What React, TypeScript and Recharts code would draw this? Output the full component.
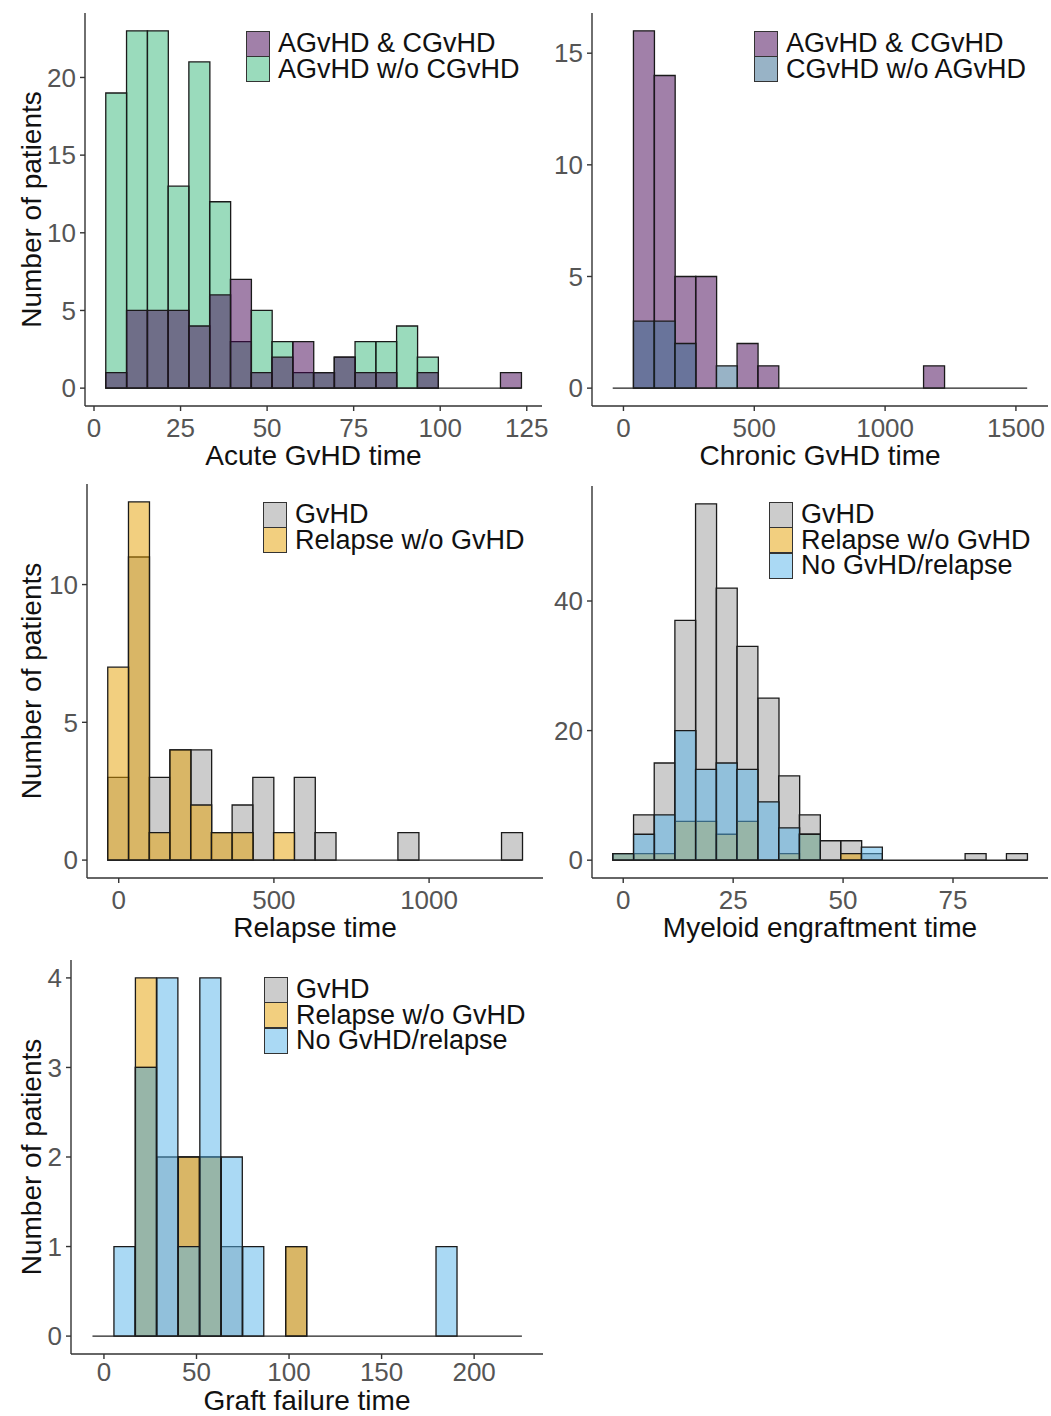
import React from "react";
import { ComposedChart, Bar, XAxis, YAxis, ReferenceLine, Legend } from "recharts";

const FONT = '"Liberation Sans", Arial, Helvetica, sans-serif';

// ggplot-like fills, drawn at alpha 0.5
const PURPLE = "#440154";
const BLUE = "#31688E";
const GREEN = "#35B779";
const GREY = "#999999";
const ORANGE = "#E69F00";
const SKY = "#56B4E9";

// Acute GvHD time
const acuteBins = [6.4, 12.4, 18.4, 24.4, 30.4, 36.4, 42.4, 48.4, 54.4, 60.4, 66.4, 72.4, 78.4, 84.4, 90.4, 96.4, 102.4, 108.4, 114.4, 120.4];
const acuteBoth = [1, 5, 5, 5, 4, 6, 7, 1, 2, 3, 1, 2, 1, 1, 0, 1, 0, 0, 0, 1];
const acuteOnly = [19, 23, 23, 13, 21, 12, 3, 5, 3, 1, 1, 2, 3, 3, 4, 2, 0, 0, 0, 0];

// Chronic GvHD time
const chronicBins = [-1.4, 77.8, 157.0, 236.2, 315.4, 394.6, 473.8, 553.0, 632.2, 711.4, 790.6, 869.8, 949.0, 1028.2, 1107.4, 1186.6, 1265.8, 1345.0, 1424.2, 1503.4];
const chronicBoth = [0, 16, 14, 5, 5, 0, 2, 1, 0, 0, 0, 0, 0, 0, 0, 1, 0, 0, 0, 0];
const chronicOnly = [0, 3, 3, 2, 0, 1, 0, 0, 0, 0, 0, 0, 0, 0, 0, 0, 0, 0, 0, 0];

// Relapse time
const relapseBins = [-2.0, 64.8, 131.6, 198.3, 265.1, 331.9, 398.7, 465.4, 532.2, 599.0, 665.8, 732.5, 799.3, 866.1, 932.9, 999.6, 1066.4, 1133.2, 1200.0, 1266.7];
const relapseGvhd = [3, 11, 3, 4, 4, 1, 2, 3, 0, 3, 1, 0, 0, 0, 1, 0, 0, 0, 0, 1];
const relapseOnly = [7, 13, 1, 4, 2, 1, 1, 0, 1, 0, 0, 0, 0, 0, 0, 0, 0, 0, 0, 0];

// Myeloid engraftment time
const engraftBins = [0.0, 4.7, 9.4, 14.1, 18.8, 23.5, 28.2, 33.0, 37.7, 42.4, 47.1, 51.8, 56.5, 61.3, 66.0, 70.7, 75.4, 80.1, 84.8, 89.5];
const engraftGvhd = [1, 7, 15, 37, 55, 42, 33, 25, 13, 7, 3, 3, 1, 0, 0, 0, 0, 1, 0, 1];
const engraftRelapse = [1, 1, 1, 6, 6, 4, 6, 0, 1, 4, 0, 1, 0, 0, 0, 0, 0, 0, 0, 0];
const engraftNone = [1, 4, 7, 20, 14, 15, 14, 9, 5, 4, 0, 0, 2, 0, 0, 0, 0, 0, 0, 0];

// Graft failure time
const graftBins = [-0.4, 11.2, 22.8, 34.4, 46.0, 57.6, 69.2, 80.8, 92.4, 104.0, 115.6, 127.2, 138.8, 150.4, 162.0, 173.6, 185.2, 196.8, 208.4, 220.0];
const graftGvhd = [0, 0, 3, 2, 2, 2, 1, 0, 0, 1, 0, 0, 0, 0, 0, 0, 0, 0, 0, 0];
const graftRelapse = [0, 0, 4, 0, 2, 2, 0, 0, 0, 1, 0, 0, 0, 0, 0, 0, 0, 0, 0, 0];
const graftNone = [0, 1, 3, 4, 1, 4, 2, 1, 0, 0, 0, 0, 0, 0, 0, 0, 1, 0, 0, 0];

type Series = { name: string; values: number[]; color: string };

function rgba(hex: string, a: number) {
  const n = parseInt(hex.slice(1), 16);
  return `rgba(${(n >> 16) & 255}, ${(n >> 8) & 255}, ${n & 255}, ${a})`;
}

function LegendBox({ items }: { items: Series[] }) {
  return (
    <div style={{ fontFamily: FONT }}>
      {items.map((s, i) => (
        <div key={s.name} style={{ display: "flex", alignItems: "center", height: 25, marginTop: i ? 0.5 : 0 }}>
          <div
            style={{
              boxSizing: "border-box",
              width: 24,
              height: 26,
              background: rgba(s.color, 0.5),
              border: "1.5px solid #333",
            }}
          />
          <span style={{ marginLeft: 8, fontSize: 27, lineHeight: "25px", color: "#111", whiteSpace: "nowrap" }}>
            {s.name}
          </span>
        </div>
      ))}
    </div>
  );
}

interface PanelProps {
  left: number;
  top: number;
  width: number;
  height: number;
  marginTop: number;
  marginRight: number;
  yAxisWidth: number;
  xAxisHeight: number;
  bins: number[];
  draw: Series[];
  legend: Series[];
  legendPos: { left: number; top: number };
  xDomain: [number, number];
  xTicks: number[];
  yDomain: [number, number];
  yTicks: number[];
  xTitle: string;
  xTitleOffset: number;
  xTickMargin?: number;
  yTitle?: string;
}

const axisStroke = { stroke: "#333", strokeWidth: 1.4 };
const tickStyle = { fontSize: 26, fill: "#555", fontFamily: FONT };

function Histogram(p: PanelProps) {
  const data = p.bins.map((x, i) => {
    const row: Record<string, number> = { x };
    p.draw.forEach((s, j) => {
      row[`s${j}`] = s.values[i];
    });
    return row;
  });
  const w = p.bins[1] - p.bins[0];
  const lo = p.bins[0] - w / 2;
  const hi = p.bins[p.bins.length - 1] + w / 2;

  return (
    <div style={{ position: "absolute", left: p.left, top: p.top, width: p.width, height: p.height }}>
      <ComposedChart
        width={p.width}
        height={p.height}
        data={data}
        margin={{ top: p.marginTop, right: p.marginRight, bottom: 0, left: 0 }}
        barCategoryGap={0}
        barGap={0}
      >
        <XAxis
          xAxisId="s0"
          type="number"
          dataKey="x"
          domain={p.xDomain}
          allowDataOverflow
          ticks={p.xTicks}
          interval={0}
          height={p.xAxisHeight}
          axisLine={axisStroke}
          tickLine={axisStroke}
          tickSize={5}
          tickMargin={p.xTickMargin ?? 8}
          tick={tickStyle}
          label={{
            value: p.xTitle,
            position: "insideBottom",
            offset: p.xTitleOffset,
            fontSize: 28,
            fill: "#111",
            style: { fontSize: 28, fill: "#111", fontFamily: FONT },
          }}
        />
        {p.draw.slice(1).map((_, k) => (
          <XAxis
            key={`hx${k}`}
            xAxisId={`s${k + 1}`}
            type="number"
            dataKey="x"
            domain={p.xDomain}
            allowDataOverflow
            hide
          />
        ))}
        <YAxis
          type="number"
          domain={p.yDomain}
          allowDataOverflow
          ticks={p.yTicks}
          interval={0}
          width={p.yAxisWidth}
          axisLine={axisStroke}
          tickLine={axisStroke}
          tickSize={5}
          tickMargin={4}
          tick={tickStyle}
          label={
            p.yTitle
              ? {
                  value: p.yTitle,
                  angle: -90,
                  position: "insideLeft",
                  offset: 31,
                  fontSize: 28,
                  fill: "#111",
                  style: { textAnchor: "middle", fontSize: 28, fill: "#111", fontFamily: FONT },
                }
              : undefined
          }
        />
        <ReferenceLine
          xAxisId="s0"
          segment={[
            { x: lo, y: 0 },
            { x: hi, y: 0 },
          ]}
          stroke="#222"
          strokeWidth={1.4}
        />
        {p.draw.map((s, j) => (
          <Bar
            key={s.name}
            xAxisId={`s${j}`}
            dataKey={`s${j}`}
            name={s.name}
            fill={s.color}
            fillOpacity={0.5}
            stroke="#1a1a1a"
            strokeWidth={1.3}
            isAnimationActive={false}
          />
        ))}
        <Legend
          layout="horizontal"
          verticalAlign="middle"
          align="center"
          wrapperStyle={{ left: p.legendPos.left, top: p.legendPos.top, width: "auto", height: "auto" }}
          content={() => <LegendBox items={p.legend} />}
        />
      </ComposedChart>
    </div>
  );
}

const both = "AGvHD & CGvHD";

export default function App() {
  const acuteBothS = { name: both, values: acuteBoth, color: PURPLE };
  const acuteOnlyS = { name: "AGvHD w/o CGvHD", values: acuteOnly, color: GREEN };
  const chronicBothS = { name: both, values: chronicBoth, color: PURPLE };
  const chronicOnlyS = { name: "CGvHD w/o AGvHD", values: chronicOnly, color: BLUE };
  const relG = { name: "GvHD", values: relapseGvhd, color: GREY };
  const relR = { name: "Relapse w/o GvHD", values: relapseOnly, color: ORANGE };
  const engG = { name: "GvHD", values: engraftGvhd, color: GREY };
  const engR = { name: "Relapse w/o GvHD", values: engraftRelapse, color: ORANGE };
  const engN = { name: "No GvHD/relapse", values: engraftNone, color: SKY };
  const grG = { name: "GvHD", values: graftGvhd, color: GREY };
  const grR = { name: "Relapse w/o GvHD", values: graftRelapse, color: ORANGE };
  const grN = { name: "No GvHD/relapse", values: graftNone, color: SKY };

  return (
    <div
      style={{
        position: "absolute",
        left: 0,
        top: 0,
        width: 1051,
        height: 1416,
        background: "#fff",
        fontFamily: FONT,
      }}
    >
      <Histogram
        left={0}
        top={0}
        width={550}
        height={480}
        marginTop={13}
        marginRight={8}
        yAxisWidth={85}
        xAxisHeight={74}
        bins={acuteBins}
        draw={[acuteOnlyS, acuteBothS]}
        legend={[acuteBothS, acuteOnlyS]}
        legendPos={{ left: 246, top: 31 }}
        xDomain={[-2.6, 129.4]}
        xTicks={[0, 25, 50, 75, 100, 125]}
        yDomain={[-1.15, 24.15]}
        yTicks={[0, 5, 10, 15, 20]}
        xTitle="Acute GvHD time"
        xTitleOffset={15}
        yTitle="Number of patients"
      />
      <Histogram
        left={510}
        top={0}
        width={541}
        height={480}
        marginTop={13}
        marginRight={3}
        yAxisWidth={82}
        xAxisHeight={74}
        bins={chronicBins}
        draw={[chronicBothS, chronicOnlyS]}
        legend={[chronicBothS, chronicOnlyS]}
        legendPos={{ left: 244, top: 31 }}
        xDomain={[-120.2, 1622.6]}
        xTicks={[0, 500, 1000, 1500]}
        yDomain={[-0.8, 16.8]}
        yTicks={[0, 5, 10, 15]}
        xTitle="Chronic GvHD time"
        xTitleOffset={15}
      />
      <Histogram
        left={0}
        top={470}
        width={550}
        height={480}
        marginTop={14}
        marginRight={7}
        yAxisWidth={87}
        xAxisHeight={72}
        bins={relapseBins}
        draw={[relG, relR]}
        legend={[relG, relR]}
        legendPos={{ left: 263, top: 32 }}
        xDomain={[-102.2, 1367]}
        xTicks={[0, 500, 1000]}
        yDomain={[-0.65, 13.65]}
        yTicks={[0, 5, 10]}
        xTitle="Relapse time"
        xTitleOffset={13}
        yTitle="Number of patients"
      />
      <Histogram
        left={510}
        top={470}
        width={541}
        height={480}
        marginTop={16}
        marginRight={3}
        yAxisWidth={82}
        xAxisHeight={72}
        bins={engraftBins}
        draw={[engG, engR, engN]}
        legend={[engG, engR, engN]}
        legendPos={{ left: 259, top: 32 }}
        xDomain={[-7.1, 96.6]}
        xTicks={[0, 25, 50, 75]}
        yDomain={[-2.75, 57.75]}
        yTicks={[0, 20, 40]}
        xTitle="Myeloid engraftment time"
        xTitleOffset={13}
      />
      <Histogram
        left={0}
        top={945}
        width={550}
        height={471}
        marginTop={15}
        marginRight={7}
        yAxisWidth={71}
        xAxisHeight={62}
        bins={graftBins}
        draw={[grG, grR, grN]}
        legend={[grG, grR, grN]}
        legendPos={{ left: 264, top: 32 }}
        xDomain={[-17.8, 237.2]}
        xTicks={[0, 50, 100, 150, 200]}
        yDomain={[-0.2, 4.2]}
        yTicks={[0, 1, 2, 3, 4]}
        xTitle="Graft failure time"
        xTitleOffset={6}
        xTickMargin={4}
        yTitle="Number of patients"
      />
    </div>
  );
}
